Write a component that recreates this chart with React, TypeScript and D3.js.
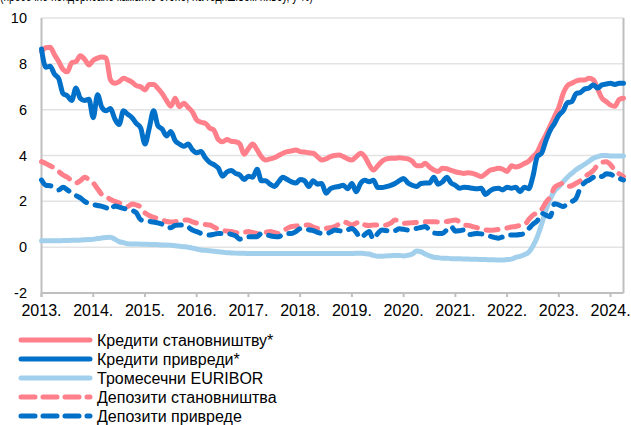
import React from "react";
import * as d3 from "d3";

const years = ["2013.", "2014.", "2015.", "2016.", "2017.", "2018.", "2019.", "2020.", "2021.", "2022.", "2023.", "2024."];
const yTicks = [-2, 0, 2, 4, 6, 8, 10];

const seriesNames = [
  "Кредити становништву*",
  "Кредити привреди*",
  "Тромесечни EURIBOR",
  "Депозити становништва",
  "Депозити привреде",
];

// monthly values, Jan 2013 – Apr 2024
const loansHouseholds = [
  8.55, 8.7, 8.72, 8.4, 8.1, 7.75, 7.65, 8.05, 8.1, 8.35, 8.2, 7.95,
  8.15, 8.25, 8.3, 8.25, 7.3, 7.15, 7.22, 7.37, 7.3, 7.2, 7.05, 7.0,
  6.86, 7.1, 7.1, 6.93, 6.7, 6.4, 6.15, 6.5, 6.13, 6.28, 6.1, 5.9,
  5.55, 5.45, 5.41, 5.2, 5.1, 4.7, 4.6, 4.7, 4.62, 4.6, 4.5, 4.05,
  4.3, 4.5, 4.25, 3.95, 3.8, 3.85, 3.9, 4.0, 4.1, 4.17, 4.2, 4.24,
  4.17, 4.15, 4.12, 4.1, 3.95, 3.8, 3.85, 3.95, 4.0, 4.02, 3.95, 3.85,
  3.8, 3.95, 4.1, 3.95, 3.6, 3.37, 3.55, 3.75, 3.85, 3.88, 3.88, 3.9,
  3.88, 3.85, 3.75, 3.55, 3.55, 3.66, 3.5, 3.37, 3.3, 3.44, 3.42, 3.35,
  3.29, 3.25, 3.22, 3.25, 3.22, 3.15, 3.08, 3.2, 3.35, 3.4, 3.44, 3.4,
  3.3, 3.55, 3.5, 3.55, 3.65, 3.75, 3.95, 4.15, 4.55, 4.9, 5.3, 5.7,
  6.1, 6.7, 7.05, 7.15, 7.25, 7.3, 7.3, 7.37, 7.3, 6.9, 6.5, 6.35,
  6.2, 6.15, 6.45, 6.5,
];

const loansCorporate = [
  8.65, 7.85, 7.9, 7.55, 7.35, 6.7, 6.6, 6.4, 6.95, 6.5, 6.4, 6.45,
  5.65, 6.65, 6.1, 5.95, 6.05, 5.6, 5.35, 5.95, 5.8, 5.65, 5.4, 5.2,
  4.5, 5.2, 5.95, 5.3, 5.15, 4.85, 5.05, 4.65, 4.5, 4.4, 4.5, 4.25,
  4.12, 4.17, 3.9, 3.7, 3.6, 3.45, 3.1, 3.28, 3.35, 3.22, 3.15, 2.95,
  3.1, 3.05, 3.4, 2.9, 2.9, 2.75, 2.65, 2.85, 3.05, 2.95, 2.85, 2.8,
  2.95, 2.9, 2.65, 2.9, 2.75, 2.78, 2.35, 2.55, 2.62, 2.65, 2.7, 2.55,
  2.78, 2.42, 2.78, 2.92, 2.86, 2.92, 2.6, 2.6, 2.64, 2.7, 2.78, 2.9,
  3.0, 2.8, 2.7, 2.65, 2.78, 2.8, 2.8, 3.05, 2.75, 2.85, 3.05, 2.8,
  2.7, 2.57, 2.62, 2.6, 2.57, 2.55, 2.57, 2.3, 2.45, 2.55, 2.57, 2.5,
  2.62, 2.57, 2.62, 2.42, 2.62, 2.55, 3.1, 3.95, 4.1, 4.65, 5.1, 5.4,
  5.75, 5.95, 6.3, 6.35, 6.7, 6.75, 6.9, 6.95, 7.08, 6.95, 7.08, 7.12,
  7.15, 7.1, 7.15, 7.15,
];

const euribor3m = [
  0.28, 0.28, 0.28, 0.28, 0.28, 0.29, 0.29, 0.3, 0.3, 0.31, 0.32, 0.33,
  0.34, 0.38, 0.4, 0.42, 0.43, 0.35, 0.24, 0.2, 0.15, 0.14, 0.14, 0.13,
  0.13, 0.12, 0.12, 0.11, 0.1, 0.1, 0.08, 0.06, 0.04, 0.02, 0.0, -0.04,
  -0.08, -0.12, -0.14, -0.16, -0.18, -0.2, -0.22, -0.24, -0.25, -0.26, -0.27, -0.27,
  -0.28, -0.28, -0.28, -0.28, -0.28, -0.28, -0.28, -0.28, -0.28, -0.28, -0.28, -0.28,
  -0.28, -0.28, -0.28, -0.28, -0.28, -0.28, -0.28, -0.28, -0.28, -0.28, -0.28, -0.28,
  -0.28, -0.27, -0.27, -0.28, -0.3, -0.36, -0.4, -0.4, -0.38, -0.37, -0.36, -0.36,
  -0.38, -0.35, -0.3, -0.17, -0.2, -0.3, -0.38, -0.44, -0.46, -0.48, -0.48, -0.5,
  -0.5, -0.5, -0.52, -0.52, -0.53, -0.53, -0.54, -0.54, -0.55, -0.55, -0.56, -0.56,
  -0.54, -0.52, -0.45, -0.4, -0.33, -0.22, 0.05, 0.45, 1.0, 1.6, 2.1, 2.45,
  2.64, 2.85, 3.05, 3.22, 3.38, 3.5, 3.62, 3.75, 3.88, 3.95, 4.0, 4.0,
  3.98, 3.98, 3.98, 3.98,
];

const depositsHouseholds = [
  3.73, 3.65, 3.55, 3.45, 3.3, 3.15, 3.05, 2.9, 2.8, 2.9, 3.05, 2.95,
  2.8, 2.55, 2.3, 2.2, 2.08, 2.0, 1.93, 1.85, 1.78, 1.88, 1.84, 1.75,
  1.5, 1.38, 1.3, 1.26, 1.2, 1.12, 1.1, 1.11, 1.15, 1.18, 1.19, 1.1,
  1.05, 1.02, 0.99, 0.97, 0.88, 0.78, 0.73, 0.7, 0.68, 0.64, 0.6, 0.65,
  0.68, 0.64, 0.6, 0.62, 0.65, 0.68, 0.64, 0.6, 0.7, 0.82, 0.9, 0.92,
  0.95, 0.97, 0.97, 0.88, 0.82, 0.8, 0.82, 0.85, 0.9, 1.0, 1.11, 1.05,
  0.97, 1.05, 1.11, 0.97, 0.95, 0.97, 0.97, 0.95, 0.97, 1.05, 1.19, 1.12,
  1.04, 1.05, 1.07, 1.08, 1.1, 1.11, 1.11, 1.11, 1.1, 1.11, 1.12, 1.16,
  1.19, 1.1, 0.97, 0.95, 0.9, 0.85, 0.78, 0.75, 0.74, 0.75, 0.77, 0.8,
  0.84, 0.88, 0.9, 0.95, 0.97, 1.2, 1.4, 1.5, 1.65, 1.95, 2.2, 2.6,
  2.72, 2.79, 2.65, 2.68, 2.79, 2.9, 3.08, 3.2, 3.35, 3.58, 3.7, 3.73,
  3.6, 3.35, 3.2, 3.08,
];

const depositsCorporate = [
  2.93, 2.7, 2.68, 2.6, 2.5, 2.62, 2.5, 2.36, 2.25, 2.15, 2.0, 1.9,
  1.86, 1.82, 1.78, 1.72, 1.62, 1.8, 1.75, 1.69, 1.65, 1.6, 1.5, 1.2,
  1.15, 1.12, 1.1, 1.06, 1.0, 0.88, 0.85, 0.95, 0.97, 0.97, 0.88, 0.75,
  0.68, 0.6, 0.56, 0.53, 0.56, 0.6, 0.6, 0.6, 0.56, 0.5, 0.35, 0.42,
  0.46, 0.46, 0.46, 0.6, 0.55, 0.5, 0.47, 0.46, 0.55, 0.6, 0.6, 0.68,
  0.8, 0.8, 0.76, 0.72, 0.65, 0.6, 0.6, 0.65, 0.75, 0.72, 0.68, 0.75,
  0.82, 0.65, 0.4, 0.55, 0.68, 0.35, 0.6, 0.75, 0.72, 0.68, 0.72, 0.8,
  0.78, 0.75, 0.78, 0.82, 0.86, 0.9, 0.75, 0.62, 0.6, 0.6, 0.75, 0.9,
  0.7, 0.72, 0.75, 0.55, 0.57, 0.6, 0.58, 0.53, 0.48, 0.43, 0.39, 0.45,
  0.53, 0.53, 0.53, 0.55, 0.6, 0.8, 1.0, 1.15, 1.48, 1.4, 1.33, 1.9,
  1.85, 1.77, 1.9, 1.99, 2.13, 2.6, 2.82, 2.93, 3.05, 3.15, 3.08, 3.2,
  3.18, 3.08, 3.0, 2.93,
];

const allSeries = [loansHouseholds, loansCorporate, euribor3m, depositsHouseholds, depositsCorporate];
const colors = ["#FF808A", "#0070C8", "#A2D0EC", "#FF808A", "#0070C8"];
const dashed = [false, false, false, true, true];
// draw order: euribor underneath
const drawOrder = [2, 3, 4, 0, 1];

const W = 631;
const H = 425;
const left = 41.5;
const right = 623.5;
const top = 18;
const bottom = 293;

export default function App() {
  const x = d3.scaleLinear().domain([0, 135]).range([left, right]);
  const y = d3.scaleLinear().domain([-2, 10]).range([bottom, top]);
  const line = d3
    .line<number>()
    .x((_, i) => x(i))
    .y((d) => y(d))
    .curve(d3.curveMonotoneX);

  const font = "Arial, 'Liberation Sans', sans-serif";
  const legendY = [340, 359, 378, 397, 416];

  return (
    <svg
      width={W}
      height={H}
      style={{ position: "absolute", left: 0, top: 0, background: "#fff" }}
      fontFamily={font}
    >
      <text x={0} y={0.5} fontSize={14} fill="#000" textLength={313} lengthAdjust="spacingAndGlyphs">
        (просечне пондерисане каматне стопе, на годишњем нивоу, у %)
      </text>
      {yTicks.map((t) =>
        t > -2 ? (
          <line key={"g" + t} x1={left} x2={right} y1={y(t)} y2={y(t)} stroke="#E3E3E3" strokeWidth={1.5} />
        ) : null
      )}
      <line x1={left} x2={left} y1={top} y2={bottom + 4} stroke="#BFBFBF" strokeWidth={2} />
      <line x1={right} x2={right} y1={top} y2={bottom} stroke="#BFBFBF" strokeWidth={2} />
      <line x1={left} x2={right} y1={bottom} y2={bottom} stroke="#BFBFBF" strokeWidth={2} />
      {years.map((yr, k) => (
        <line key={"t" + k} x1={x(k * 12)} x2={x(k * 12)} y1={bottom} y2={bottom + 4} stroke="#BFBFBF" strokeWidth={2} />
      ))}
      {yTicks.map((t) => (
        <text key={"yl" + t} x={27} y={y(t)} dy="0.35em" textAnchor="end" fontSize={14.5} fill="#000">
          {t}
        </text>
      ))}
      {years.map((yr, k) => (
        <text key={"xl" + k} x={x(k * 12)} y={316} textAnchor="middle" fontSize={16} fill="#000">
          {yr}
        </text>
      ))}
      {drawOrder.map((si) => (
        <path
          key={"s" + si}
          d={line(allSeries[si]) || ""}
          fill="none"
          stroke={colors[si]}
          strokeWidth={5}
          strokeLinecap="round"
          strokeLinejoin="round"
          strokeDasharray={dashed[si] ? "12 9" : undefined}
        />
      ))}
      {seriesNames.map((name, k) => (
        <g key={"lg" + k}>
          <line
            x1={21}
            x2={90}
            y1={legendY[k]}
            y2={legendY[k]}
            stroke={colors[k]}
            strokeWidth={5}
            strokeLinecap="round"
            strokeDasharray={dashed[k] ? "14 8" : undefined}
          />
          <text x={97} y={legendY[k]} dy="0.35em" fontSize={16} fill="#000">
            {name}
          </text>
        </g>
      ))}
    </svg>
  );
}
